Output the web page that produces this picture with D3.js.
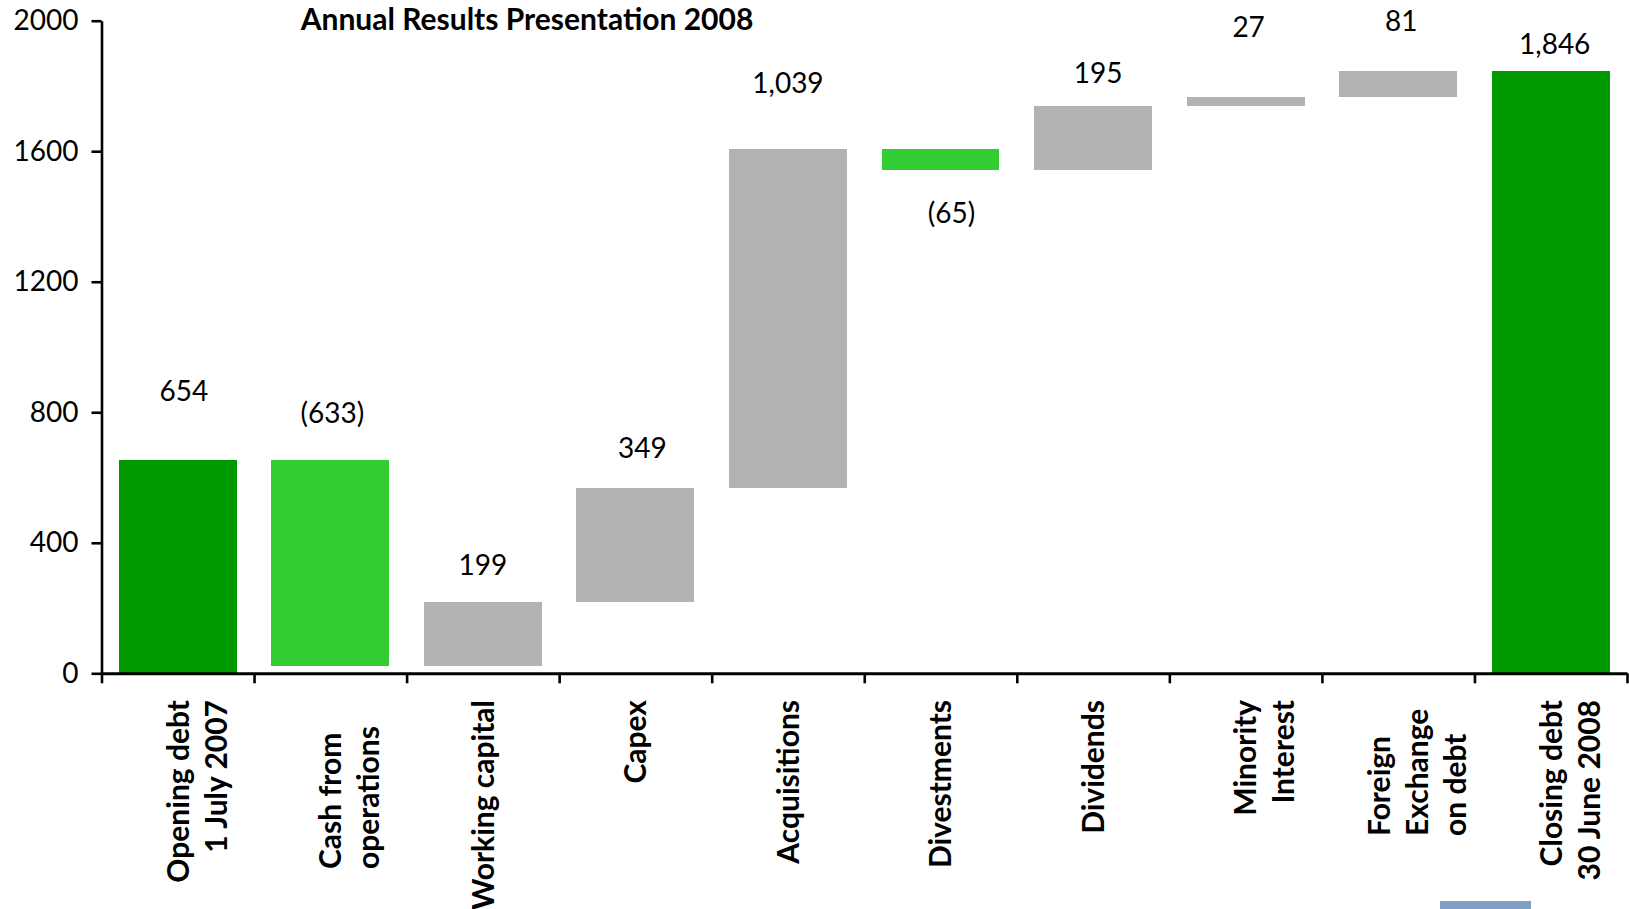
<!DOCTYPE html>
<html>
<head>
<meta charset="utf-8">
<script src="https://cdn.jsdelivr.net/npm/d3@7"></script>
<style>
  html, body { margin: 0; padding: 0; background: #ffffff; }
  svg { display: block; }
  text { font-family: Lato, "Open Sans", sans-serif; fill: #000; }
</style>
</head>
<body>
<svg id="chart" width="1629" height="909"></svg>
<script>
// ---- data ----
const chartTitle = "Annual Results Presentation 2008";
const categories = [
  ["Opening debt", "1 July 2007"],
  ["Cash from", "operations"],
  ["Working capital"],
  ["Capex"],
  ["Acquisitions"],
  ["Divestments"],
  ["Dividends"],
  ["Minority", "Interest"],
  ["Foreign", "Exchange", "on debt"],
  ["Closing debt", "30 June 2008"]
];
const changes = [654, -633, 199, 349, 1039, -65, 195, 27, 81, 1846];
const barKinds = ["total", "decrease", "increase", "increase", "increase",
                  "decrease", "increase", "increase", "increase", "total"];
const yTicks = [0, 400, 800, 1200, 1600, 2000];

// ---- layout & style ----
const W = 1629, H = 909;
const plot = { left: 101.5, right: 1627, top: 20.7, bottom: 673.3 };
const kindColor = { total: "#009900", decrease: "#33cc33", increase: "#b2b2b2" };
// offset of each value label's centre from the top centre of its bar
const labelGap = [-69, -47, -37, -40, -66, 64, -33, -70, -50, -27];
const labelShiftX = [6, 2, 0, 7, 0, 11, 5, 3, 3, 4];
// category label placement: default lines end just under the axis
const catLabelTop = 700;
const catLabelOverride = { 1: { anchor: "start", y: 869 }, 8: { anchor: "start", y: 836 } };
const lineStep = 38;

// ---- running totals for the waterfall ----
let running = 0;
const bars = changes.map((v, i) => {
  let start, end;
  if (barKinds[i] === "total") { start = 0; end = v; running = v; }
  else { start = running; end = running + v; running = end; }
  return { i, value: v, kind: barKinds[i], lo: Math.min(start, end), hi: Math.max(start, end) };
});

const svg = d3.select("#chart");

const x = d3.scaleBand()
  .domain(d3.range(categories.length))
  .range([plot.left, plot.right])
  .paddingInner(0.227)
  .paddingOuter(0.1135);

const xEdges = d3.scaleLinear().domain([0, categories.length]).range([plot.left, plot.right]);

const y = d3.scaleLinear().domain([0, 2000]).range([plot.bottom, plot.top]);

// bars
svg.append("g").selectAll("rect")
  .data(bars)
  .join("rect")
  .attr("x", d => x(d.i))
  .attr("width", x.bandwidth())
  .attr("y", d => y(d.hi))
  .attr("height", d => y(d.lo) - y(d.hi))
  .attr("fill", d => kindColor[d.kind])
  .attr("shape-rendering", "crispEdges");

// value labels
const fmt = d3.format(",");
svg.append("g").selectAll("text")
  .data(bars)
  .join("text")
  .attr("x", d => x(d.i) + x.bandwidth() / 2 + labelShiftX[d.i])
  .attr("y", d => y(d.hi) + labelGap[d.i])
  .attr("dy", "0.36em")
  .attr("text-anchor", "middle")
  .style("font-size", "28px")
  .text(d => d.value < 0 ? "(" + fmt(-d.value) + ")" : fmt(d.value));

// y axis
const yAxis = svg.append("g")
  .attr("transform", `translate(${plot.left},0)`)
  .call(d3.axisLeft(y).tickValues(yTicks).tickSize(10).tickSizeOuter(0).tickPadding(13).tickFormat(d3.format("d")));
yAxis.select(".domain").attr("stroke", "#000").attr("stroke-width", 2.6);
yAxis.selectAll(".tick line").attr("stroke", "#000").attr("stroke-width", 2.6);
yAxis.selectAll(".tick text").style("font-size", "28px").style("font-family", "Lato, sans-serif").attr("fill", "#000");

// x axis with ticks at the category boundaries
const xAxis = svg.append("g")
  .attr("transform", `translate(0,${plot.bottom})`)
  .call(d3.axisBottom(xEdges).tickValues(d3.range(categories.length + 1)).tickSize(10).tickSizeOuter(0).tickFormat(""));
xAxis.select(".domain").attr("stroke", "#000").attr("stroke-width", 3);
xAxis.selectAll(".tick line").attr("stroke", "#000").attr("stroke-width", 2.6);

// rotated category labels
const catG = svg.append("g");
categories.forEach((lines, i) => {
  const n = lines.length;
  const cx = x(i) + x.bandwidth() / 2 + (n > 1 ? 19 : 0);
  const ov = catLabelOverride[i] || { anchor: "end", y: catLabelTop };
  lines.forEach((line, k) => {
    const lx = cx + (k - (n - 1) / 2) * lineStep;
    catG.append("text")
      .attr("transform", `translate(${lx},${ov.y}) rotate(-90)`)
      .attr("dy", "0.36em")
      .attr("text-anchor", ov.anchor)
      .style("font-size", "30px")
      .style("font-weight", "bold")
      .text(line);
  });
});

// title
svg.append("text")
  .attr("x", 527)
  .attr("y", 30)
  .attr("text-anchor", "middle")
  .style("font-size", "30px")
  .style("font-weight", "bold")
  .text(chartTitle);

// small tab at the lower edge
svg.append("rect")
  .attr("x", 1440).attr("y", 901).attr("width", 91).attr("height", 10)
  .attr("fill", "#7f9fc8");
</script>
</body>
</html>
